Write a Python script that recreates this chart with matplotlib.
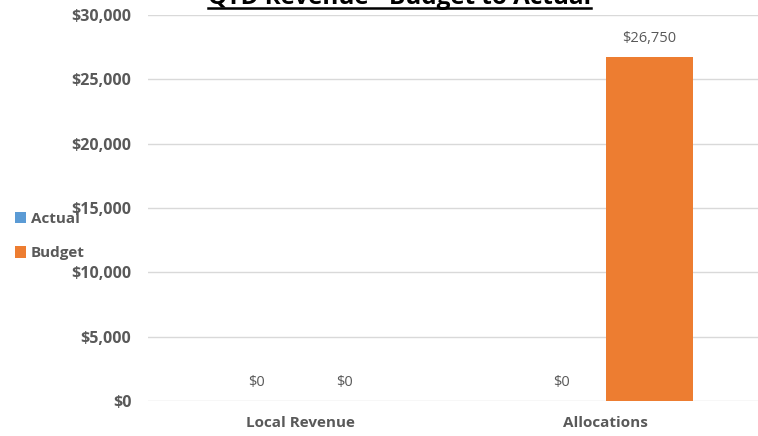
import matplotlib.pyplot as plt
from matplotlib.lines import Line2D
import numpy as np

categories = ['Local Revenue', 'Allocations']
actual = [0, 0]
budget = [0, 26750]
series_names = ['Actual', 'Budget']
yticks = [0, 5000, 10000, 15000, 20000, 25000, 30000]

blue = '#5b9bd5'
orange = '#ed7d31'
grey = '#595959'

plt.rcParams['font.family'] = ['Open Sans', 'DejaVu Sans']

fig = plt.figure(figsize=(7.58, 4.36), dpi=100)
ax = fig.add_axes([148 / 758, 35 / 436, 610 / 758, 386 / 436])

x = np.arange(len(categories))
w = 0.288
b1 = ax.bar(x - w / 2, actual, w, color=blue, label=series_names[0])
b2 = ax.bar(x + w / 2, budget, w, color=orange, label=series_names[1])

for bars in (b1, b2):
    for r in bars:
        v = r.get_height()
        ax.annotate(f'${v:,.0f}', (r.get_x() + r.get_width() / 2, v),
                    xytext=(0, 8), textcoords='offset points',
                    ha='center', va='bottom', fontsize=10.5, color=grey)

ax.set_xlim(-0.5, 1.5)
ax.set_ylim(0, 30000)
ax.set_yticks(yticks)
ax.set_yticklabels([f'${t:,.0f}' for t in yticks], fontweight='bold',
                   fontsize=11.5, color=grey)
ax.set_xticks(x)
ax.set_xticklabels(categories, fontweight='bold', fontsize=11, color=grey)
ax.tick_params(length=0, pad=12)
ax.tick_params(axis='x', pad=11)
ax.grid(axis='y', color='#d9d9d9', lw=1)
ax.set_axisbelow(True)
for s in ax.spines.values():
    s.set_visible(False)

fig.legend(loc='upper left', bbox_to_anchor=(1 / 758, 1 - 198 / 436),
           frameon=False, handlelength=0.75, handleheight=0.75, handletextpad=0.3,
           labelspacing=1.35, prop={'weight': 'bold', 'size': 11},
           labelcolor=grey)

# title sits partly above the top edge, underlined
title = fig.text(0.527, 1 - 4 / 436, 'QTD Revenue - Budget to Actual',
                 ha='center', va='baseline', fontsize=17.5, fontweight='bold',
                 color='black')
fig.canvas.draw()
bb = title.get_window_extent().transformed(fig.transFigure.inverted())
uy = 1 - 8 / 436
fig.add_artist(Line2D([bb.x0, bb.x1], [uy, uy], color='black', lw=1.8,
                      transform=fig.transFigure))

fig.savefig('out.png', dpi=100)
